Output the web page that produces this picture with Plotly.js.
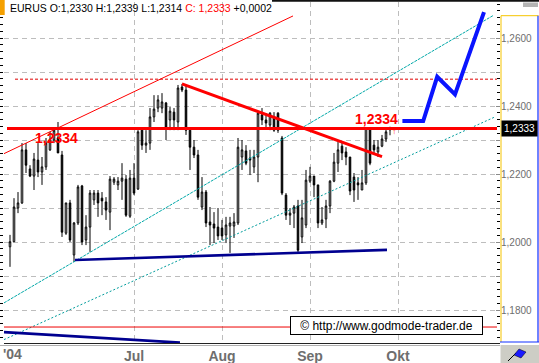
<!DOCTYPE html>
<html><head><meta charset="utf-8">
<script src="https://cdn.plot.ly/plotly-3.0.1.min.js"></script>
<style>html,body{margin:0;padding:0;background:#fff}#c{width:539px;height:363px}</style>
</head><body><div id="c"></div>
<script>
// ---- data (EUR/USD daily, trading-day index) ----
const open = [1.1986,1.2001,1.2100,1.2115,1.2271,1.2215,1.2194,1.2241,1.2206,1.2221,
1.2271,1.2300,1.2306,1.2256,1.2026,1.2115,1.1962,1.2056,1.2165,1.2006,
1.2044,1.2124,1.2144,1.2129,1.2118,1.2088,1.2176,1.2168,1.2179,1.2185,
1.2076,1.2188,1.2156,1.2329,1.2285,1.2291,1.2368,1.2394,1.2394,1.2409,
1.2359,1.2382,1.2353,1.2456,1.2447,1.2329,1.2279,1.2256,1.2103,1.2147,
1.2059,1.2053,1.2044,1.2041,1.2021,1.2047,1.2047,1.2056,1.2250,1.2268,
1.2247,1.2221,1.2250,1.2374,1.2359,1.2344,1.2368,1.2379,1.2306,1.2138,
1.2079,1.2085,1.2106,1.2015,1.2050,1.2179,1.2194,1.2168,1.2056,1.2068,
1.2106,1.2179,1.2232,1.2282,1.2265,1.2250,1.2191,1.2174,1.2153,1.2174,
1.2332,1.2285,1.2265,1.2282,1.2303,1.2330];
const high = [1.2021,1.2129,1.2147,1.2291,1.2291,1.2226,1.2262,1.2291,1.2250,1.2306,
1.2324,1.2338,1.2353,1.2268,1.2115,1.2124,1.2059,1.2168,1.2168,1.2079,
1.2153,1.2153,1.2153,1.2147,1.2132,1.2194,1.2191,1.2191,1.2232,1.2197,
1.2212,1.2232,1.2329,1.2335,1.2329,1.2394,1.2432,1.2432,1.2438,1.2412,
1.2397,1.2394,1.2462,1.2465,1.2462,1.2335,1.2300,1.2271,1.2191,1.2153,
1.2103,1.2088,1.2100,1.2065,1.2074,1.2074,1.2085,1.2306,1.2300,1.2285,
1.2271,1.2271,1.2382,1.2394,1.2379,1.2382,1.2382,1.2382,1.2312,1.2144,
1.2100,1.2109,1.2124,1.2124,1.2212,1.2221,1.2194,1.2168,1.2103,1.2124,
1.2182,1.2262,1.2294,1.2294,1.2279,1.2250,1.2203,1.2191,1.2212,1.2335,
1.2335,1.2300,1.2300,1.2315,1.2338,1.2339];
const low = [1.1927,1.2000,1.2085,1.2112,1.2203,1.2191,1.2153,1.2191,1.2168,1.2212,
1.2268,1.2291,1.2262,1.2015,1.2021,1.2000,1.1941,1.2050,1.1991,1.1991,
1.1971,1.2109,1.2074,1.2079,1.2065,1.2035,1.2168,1.2153,1.2124,1.2074,
1.2071,1.2138,1.2153,1.2271,1.2262,1.2271,1.2353,1.2382,1.2379,1.2300,
1.2329,1.2329,1.2329,1.2441,1.2315,1.2212,1.2247,1.2124,1.2094,1.2044,
1.1991,1.1997,1.2006,1.2006,1.1997,1.1968,1.2012,1.2050,1.2212,1.2226,
1.2197,1.2203,1.2176,1.2344,1.2338,1.2329,1.2324,1.2321,1.2138,1.2065,
1.2050,1.2041,1.1968,1.1997,1.2041,1.2174,1.2132,1.2041,1.2050,1.2041,
1.2085,1.2176,1.2206,1.2241,1.2226,1.2138,1.2118,1.2124,1.2153,1.2168,
1.2226,1.2256,1.2250,1.2279,1.2294,1.2314];
const close = [1.2001,1.2103,1.2115,1.2271,1.2226,1.2194,1.2244,1.2206,1.2221,1.2291,
1.2300,1.2329,1.2262,1.2029,1.2115,1.2006,1.2056,1.2162,1.2000,1.2044,
1.2144,1.2144,1.2115,1.2121,1.2094,1.2185,1.2185,1.2179,1.2188,1.2079,
1.2188,1.2144,1.2324,1.2285,1.2291,1.2368,1.2391,1.2418,1.2412,1.2335,
1.2385,1.2359,1.2453,1.2447,1.2329,1.2279,1.2256,1.2132,1.2147,1.2056,
1.2050,1.2041,1.2018,1.2018,1.2050,1.2056,1.2059,1.2279,1.2271,1.2232,
1.2241,1.2250,1.2379,1.2359,1.2350,1.2379,1.2329,1.2329,1.2144,1.2079,
1.2085,1.2103,1.1976,1.2071,1.2182,1.2194,1.2168,1.2056,1.2065,1.2106,
1.2179,1.2235,1.2271,1.2262,1.2250,1.2150,1.2153,1.2168,1.2174,1.2335,
1.2232,1.2271,1.2279,1.2303,1.2324,1.2333];
const day = open.map((_, k) => k);

const monthTicks = [31, 53, 75, 97];
const monthLabels = ['Jul', 'Aug', 'Sep', 'Okt'];
const yearLabel = "'04";
const priceTicks = [1.18, 1.19, 1.20, 1.21, 1.22, 1.23, 1.24, 1.25, 1.26];
const priceLabels = ['1,1800', '', '1,2000', '', '1,2200', '', '1,2400', '', '1,2600'];

// drawn analysis lines (trading-day index, price)
const redChannelX = [-1.5, 70.75],   redChannelY = [1.2260, 1.2665];
const redDashX = [1.25, 121.75],     redDashY = [1.2479, 1.2479];
const levelX = [-0.75, 121.75],      levelY = [1.2334, 1.2334];
const resistX = [43, 93],            resistY = [1.2465, 1.2251];
const lowRedX = [-1.5, 121.75],      lowRedY = [1.1750, 1.1750];
const supportX = [16.25, 94.25],     supportY = [1.1947, 1.1977];
const oldSupportX = [-1.5, 42.5],    oldSupportY = [1.1735, 1.1704];
const tealUpX = [-1.5, 120.75],      tealUpY = [1.1821, 1.2666];
const tealLowX = [-1.5, 121.25],     tealLowY = [1.1713, 1.2368];
const forecastX = [98.1, 103.3, 106.8, 111.25, 118.5];
const forecastY = [1.2356, 1.2356, 1.2486, 1.2434, 1.2676];
const levelText = '1,2334';
const lastText = '1,2333';

// ---- layout helpers (pixel -> paper) ----
const L = 4, T = 2, W = 496, H = 341;
const PX = x => (x - L) / W;
const PY = y => 1 - (y - T) / H;
const seg = (x0, y0, x1, y1, color, width) => ({type:'line', xref:'paper', yref:'paper',
  x0:PX(x0), y0:PY(y0), x1:PX(x1), y1:PY(y1), line:{color:color, width:width}});
const box = (x0, y0, x1, y1, fill) => ({type:'rect', xref:'paper', yref:'paper',
  x0:PX(x0), y0:PY(y0), x1:PX(x1), y1:PY(y1), fillcolor:fill, line:{width:0}});

const ln = (x, y, color, width, dash) => ({type:'scatter', mode:'lines', x:x, y:y,
  line:{color:color, width:width, dash:dash || 'solid'}, hoverinfo:'skip', showlegend:false});

const traces = [
  {type:'candlestick', x:day, open:open, high:high, low:low, close:close,
   increasing:{line:{color:'#000', width:1}, fillcolor:'#ffffff'},
   decreasing:{line:{color:'#000', width:1}, fillcolor:'#000000'},
   whiskerwidth:0, hoverinfo:'skip', showlegend:false},
  ln(tealLowX, tealLowY, '#009c9c', 1, '2px,2px'),
  ln(tealUpX, tealUpY, '#00a8a8', 1, '3px,1px'),
  ln(redChannelX, redChannelY, '#ff0000', 1),
  ln(redDashX, redDashY, '#e00000', 1, '3px,2px'),
  ln(lowRedX, lowRedY, '#ee0000', 1),
  ln(supportX, supportY, '#000090', 2.6),
  ln(oldSupportX, oldSupportY, '#000090', 2.6),
  ln(levelX, levelY, '#ff0000', 3),
  ln(resistX, resistY, '#ff0000', 3),
  ln(forecastX, forecastY, '#0a14ff', 4),
  {type:'scatter', mode:'markers', x:[0], y:[1.2], yaxis:'y2', marker:{opacity:0}, hoverinfo:'skip', showlegend:false}
];

const tickFontX = {family:'Liberation Sans Narrow, Arial Narrow, Liberation Sans, Arial', size:14, color:'#6e6e6e', weight:'bold'};

const layout = {
  width:539, height:363, margin:{l:L, r:39, t:T, b:20, pad:0},
  paper_bgcolor:'#ffffff', plot_bgcolor:'#ffffff', showlegend:false,
  separators:',.', boxgap:0.45,
  xaxis:{range:[-1.5, 122.5], tickmode:'array', tickvals:monthTicks, ticktext:monthLabels,
    showgrid:true, gridcolor:'#bdbdbd', griddash:'5px,4px', gridwidth:1,
    ticks:'', showline:true, linecolor:'#222', linewidth:1,
    zeroline:false, rangeslider:{visible:false}, tickfont:tickFontX, fixedrange:true},
  yaxis:{range:[1.1703, 1.2706], side:'right', tickmode:'array', tickvals:priceTicks, ticktext:priceLabels,
    showgrid:true, gridcolor:'#bdbdbd', griddash:'5px,4px', gridwidth:1,
    ticks:'inside', ticklen:4, tickcolor:'#8a8a8a',
    minor:{tick0:1.18, dtick:0.002, ticks:'inside', ticklen:3, tickcolor:'#000', showgrid:false},
    tickfont:{family:'Liberation Sans, Arial', size:10, color:'#6e6e6e'},
    zeroline:false, showline:false, fixedrange:true},
  yaxis2:{range:[1.1703, 1.2706], overlaying:'y', side:'left', tickmode:'linear', tick0:1.18, dtick:0.002,
    ticks:'outside', ticklen:3, tickcolor:'#000', showticklabels:false, showgrid:false, zeroline:false, showline:false, fixedrange:true},
  shapes:[
    box(0, 0, 4.7, 15, '#f5a000'),
    seg(272, 0.8, 539, 0.8, '#111', 2),
    box(523, 2.5, 538, 7, '#b4b4b4'),
    seg(501, 15.7, 501, 342, '#f5c400', 1),
    seg(501, 15.7, 538.5, 15.7, '#f5c400', 1),
    seg(538, 15.7, 538, 342, '#1030ff', 1.2),
    seg(500, 342, 539, 342, '#1030ff', 1.2),
    seg(0, 345.5, 500, 345.5, '#b0b0b0', 1),
    box(500.5, 345, 539, 363, '#cdcdc5'),
    seg(508, 361, 516, 353, '#000', 1),
    {type:'path', xref:'paper', yref:'paper',
     path:`M ${PX(514)} ${PY(355)} L ${PX(519)} ${PY(349)} L ${PX(526)} ${PY(352)} L ${PX(521)} ${PY(358)} Z`,
     fillcolor:'#1a1aff', line:{color:'#000', width:0.5}}
  ],
  annotations:[
    {xref:'paper', yref:'paper', x:PX(8), y:PY(7.7), xanchor:'left', yanchor:'middle', showarrow:false,
     text:'EURUS O:1,2330 H:1,2339 L:1,2314 <span style="color:#ff0000">C: 1,2333</span> +0,0002',
     font:{family:'Liberation Sans, Arial', size:10.5, color:'#000'}},
    {xref:'paper', yref:'paper', x:PX(1), y:PY(353.5), xanchor:'left', yanchor:'middle', showarrow:false,
     text:yearLabel, font:tickFontX},
    {xref:'paper', yref:'paper', x:PX(56.5), y:PY(137.5), xanchor:'center', yanchor:'middle', showarrow:false,
     text:levelText, font:{family:'Liberation Sans, Arial', size:14, color:'#ff0000', weight:'bold'}},
    {xref:'paper', yref:'paper', x:PX(376.5), y:PY(119), xanchor:'center', yanchor:'middle', showarrow:false,
     text:levelText, font:{family:'Liberation Sans, Arial', size:14, color:'#ff0000', weight:'bold'}},
    {xref:'paper', yref:'paper', x:PX(394.5), y:PY(131), xanchor:'center', yanchor:'middle', showarrow:false,
     text:'↑', font:{family:'Liberation Sans, Arial', size:9, color:'#ff0000'}},
    {xref:'paper', yref:'y', x:PX(519.2), y:close[close.length-1], xanchor:'center', yanchor:'middle', showarrow:false,
     text:lastText, bgcolor:'#000', width:33, height:13, borderpad:1,
     font:{family:'Liberation Sans, Arial', size:10, color:'#fff'}},
    {xref:'paper', yref:'paper', x:PX(386.2), y:PY(325.8), xanchor:'center', yanchor:'middle', showarrow:false,
     text:'© http://www.godmode-trader.de', bgcolor:'#fff', bordercolor:'#000', borderwidth:1,
     width:189, height:15, borderpad:1, font:{family:'Liberation Sans, Arial', size:12, color:'#000'}}
  ]
};

Plotly.newPlot('c', traces, layout, {displayModeBar:false, staticPlot:true});
</script>
</body></html>
